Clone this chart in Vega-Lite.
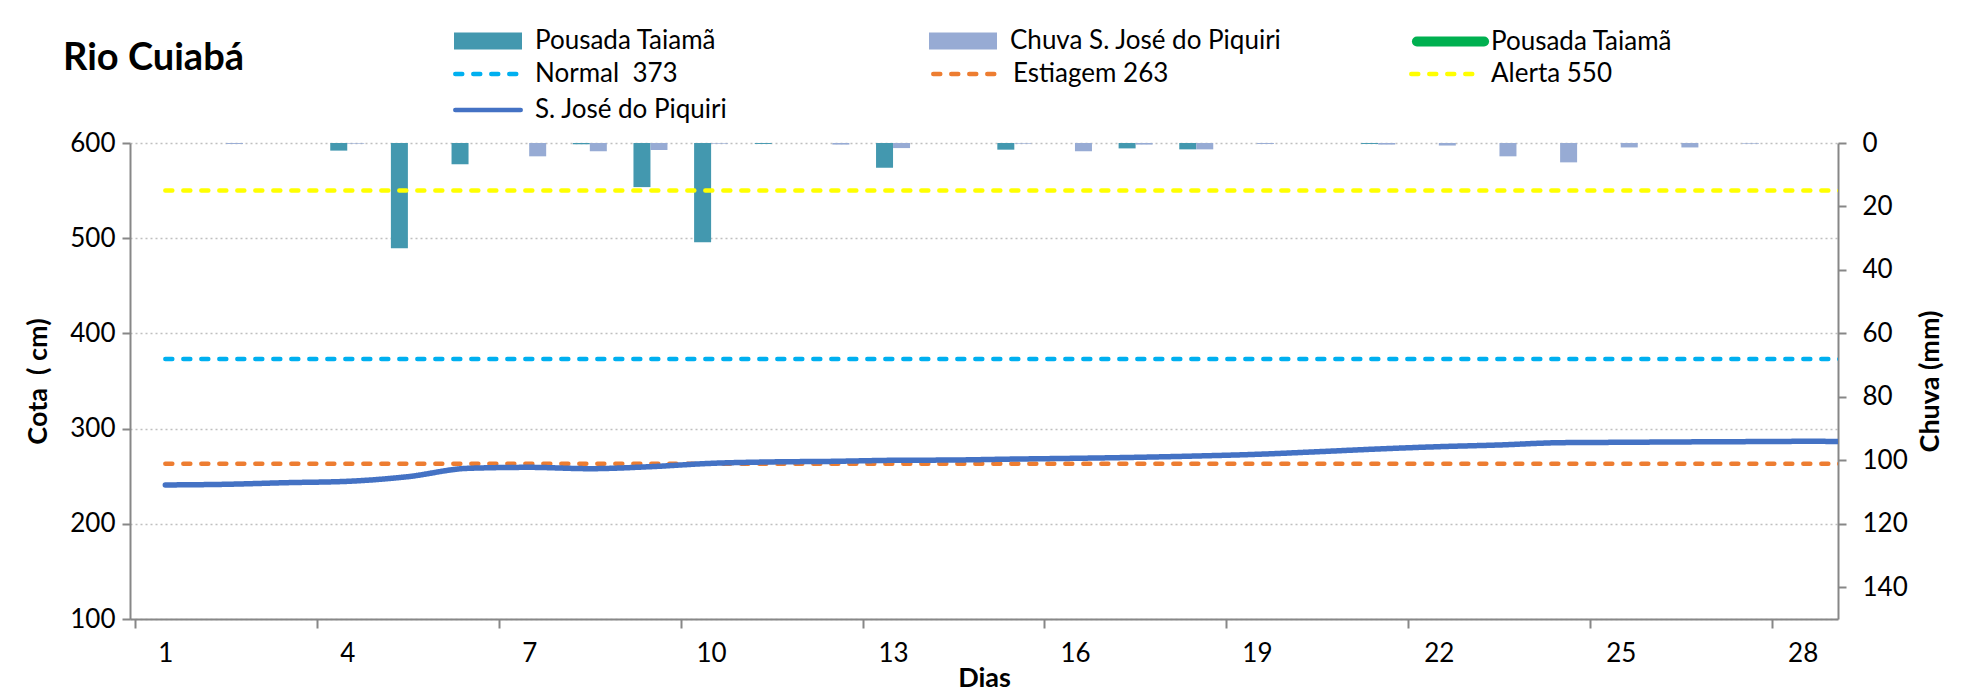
{
  "$schema": "https://vega.github.io/schema/vega-lite/v6.json",
  "width": 1708,
  "height": 476,
  "autosize": {"type": "none"},
  "padding": {"left": 130, "top": 143, "right": 146, "bottom": 79},
  "background": "white",
  "title": {
    "text": "Rio Cuiabá",
    "anchor": "start",
    "frame": "group",
    "font": "Lato",
    "fontSize": 38,
    "fontWeight": "bold",
    "color": "#000000",
    "dx": -67,
    "dy": 80,
    "offset": 0,
    "baseline": "alphabetic"
  },
  "datasets": {
    "chuva": [
      {"dia": 1, "serie": "Pousada Taiamã", "mm": 0},
      {"dia": 2, "serie": "Pousada Taiamã", "mm": 0},
      {"dia": 3, "serie": "Pousada Taiamã", "mm": 0},
      {"dia": 4, "serie": "Pousada Taiamã", "mm": 2.4},
      {"dia": 5, "serie": "Pousada Taiamã", "mm": 33.2},
      {"dia": 6, "serie": "Pousada Taiamã", "mm": 6.7},
      {"dia": 7, "serie": "Pousada Taiamã", "mm": 0},
      {"dia": 8, "serie": "Pousada Taiamã", "mm": 0.4},
      {"dia": 9, "serie": "Pousada Taiamã", "mm": 13.9},
      {"dia": 10, "serie": "Pousada Taiamã", "mm": 31.3},
      {"dia": 11, "serie": "Pousada Taiamã", "mm": 0.3},
      {"dia": 12, "serie": "Pousada Taiamã", "mm": 0},
      {"dia": 13, "serie": "Pousada Taiamã", "mm": 7.8},
      {"dia": 14, "serie": "Pousada Taiamã", "mm": 0},
      {"dia": 15, "serie": "Pousada Taiamã", "mm": 2.1},
      {"dia": 16, "serie": "Pousada Taiamã", "mm": 0},
      {"dia": 17, "serie": "Pousada Taiamã", "mm": 1.7},
      {"dia": 18, "serie": "Pousada Taiamã", "mm": 2.0},
      {"dia": 19, "serie": "Pousada Taiamã", "mm": 0},
      {"dia": 20, "serie": "Pousada Taiamã", "mm": 0},
      {"dia": 21, "serie": "Pousada Taiamã", "mm": 0.3},
      {"dia": 22, "serie": "Pousada Taiamã", "mm": 0},
      {"dia": 23, "serie": "Pousada Taiamã", "mm": 0},
      {"dia": 24, "serie": "Pousada Taiamã", "mm": 0},
      {"dia": 25, "serie": "Pousada Taiamã", "mm": 0},
      {"dia": 26, "serie": "Pousada Taiamã", "mm": 0},
      {"dia": 27, "serie": "Pousada Taiamã", "mm": 0},
      {"dia": 28, "serie": "Pousada Taiamã", "mm": 0},
      {"dia": 1, "serie": "Chuva S. José do Piquiri", "mm": 0},
      {"dia": 2, "serie": "Chuva S. José do Piquiri", "mm": 0.3},
      {"dia": 3, "serie": "Chuva S. José do Piquiri", "mm": 0},
      {"dia": 4, "serie": "Chuva S. José do Piquiri", "mm": 0.2},
      {"dia": 5, "serie": "Chuva S. José do Piquiri", "mm": 0},
      {"dia": 6, "serie": "Chuva S. José do Piquiri", "mm": 0},
      {"dia": 7, "serie": "Chuva S. José do Piquiri", "mm": 4.2},
      {"dia": 8, "serie": "Chuva S. José do Piquiri", "mm": 2.6},
      {"dia": 9, "serie": "Chuva S. José do Piquiri", "mm": 2.2},
      {"dia": 10, "serie": "Chuva S. José do Piquiri", "mm": 0.2},
      {"dia": 11, "serie": "Chuva S. José do Piquiri", "mm": 0},
      {"dia": 12, "serie": "Chuva S. José do Piquiri", "mm": 0.5},
      {"dia": 13, "serie": "Chuva S. José do Piquiri", "mm": 1.6},
      {"dia": 14, "serie": "Chuva S. José do Piquiri", "mm": 0},
      {"dia": 15, "serie": "Chuva S. José do Piquiri", "mm": 0.2},
      {"dia": 16, "serie": "Chuva S. José do Piquiri", "mm": 2.6},
      {"dia": 17, "serie": "Chuva S. José do Piquiri", "mm": 0.5},
      {"dia": 18, "serie": "Chuva S. José do Piquiri", "mm": 2.0},
      {"dia": 19, "serie": "Chuva S. José do Piquiri", "mm": 0.3},
      {"dia": 20, "serie": "Chuva S. José do Piquiri", "mm": 0},
      {"dia": 21, "serie": "Chuva S. José do Piquiri", "mm": 0.5},
      {"dia": 22, "serie": "Chuva S. José do Piquiri", "mm": 0.8},
      {"dia": 23, "serie": "Chuva S. José do Piquiri", "mm": 4.2},
      {"dia": 24, "serie": "Chuva S. José do Piquiri", "mm": 6.1},
      {"dia": 25, "serie": "Chuva S. José do Piquiri", "mm": 1.4},
      {"dia": 26, "serie": "Chuva S. José do Piquiri", "mm": 1.4},
      {"dia": 27, "serie": "Chuva S. José do Piquiri", "mm": 0.2},
      {"dia": 28, "serie": "Chuva S. José do Piquiri", "mm": 0}
    ],
    "referencia": [
      {"dia": 1, "serie": "Normal  373", "cota": 373},
      {"dia": 29, "serie": "Normal  373", "cota": 373},
      {"dia": 1, "serie": "Estiagem 263", "cota": 263},
      {"dia": 29, "serie": "Estiagem 263", "cota": 263},
      {"dia": 1, "serie": "Alerta 550", "cota": 550},
      {"dia": 29, "serie": "Alerta 550", "cota": 550}
    ],
    "cota": [
      {"dia": 1, "serie": "S. José do Piquiri", "cota": 240.8},
      {"dia": 2, "serie": "S. José do Piquiri", "cota": 241.5},
      {"dia": 3, "serie": "S. José do Piquiri", "cota": 243.2},
      {"dia": 4, "serie": "S. José do Piquiri", "cota": 244.6},
      {"dia": 5, "serie": "S. José do Piquiri", "cota": 249.5},
      {"dia": 6, "serie": "S. José do Piquiri", "cota": 258.3},
      {"dia": 7, "serie": "S. José do Piquiri", "cota": 259.3},
      {"dia": 8, "serie": "S. José do Piquiri", "cota": 257.9},
      {"dia": 9, "serie": "S. José do Piquiri", "cota": 260},
      {"dia": 10, "serie": "S. José do Piquiri", "cota": 263.5},
      {"dia": 11, "serie": "S. José do Piquiri", "cota": 265},
      {"dia": 12, "serie": "S. José do Piquiri", "cota": 265.6},
      {"dia": 13, "serie": "S. José do Piquiri", "cota": 266.7},
      {"dia": 14, "serie": "S. José do Piquiri", "cota": 267},
      {"dia": 15, "serie": "S. José do Piquiri", "cota": 268},
      {"dia": 16, "serie": "S. José do Piquiri", "cota": 268.8},
      {"dia": 17, "serie": "S. José do Piquiri", "cota": 269.8},
      {"dia": 18, "serie": "S. José do Piquiri", "cota": 271.2},
      {"dia": 19, "serie": "S. José do Piquiri", "cota": 273},
      {"dia": 20, "serie": "S. José do Piquiri", "cota": 275.7},
      {"dia": 21, "serie": "S. José do Piquiri", "cota": 278.6},
      {"dia": 22, "serie": "S. José do Piquiri", "cota": 281},
      {"dia": 23, "serie": "S. José do Piquiri", "cota": 282.8},
      {"dia": 24, "serie": "S. José do Piquiri", "cota": 285.2},
      {"dia": 25, "serie": "S. José do Piquiri", "cota": 285.6},
      {"dia": 26, "serie": "S. José do Piquiri", "cota": 286},
      {"dia": 27, "serie": "S. José do Piquiri", "cota": 286.3},
      {"dia": 28, "serie": "S. José do Piquiri", "cota": 286.6},
      {"dia": 29, "serie": "S. José do Piquiri", "cota": 286.5}
    ],
    "cotaPousada": []
  },
  "encoding": {
    "x": {
      "field": "dia",
      "type": "quantitative",
      "scale": {"domain": [0.5, 28.5], "nice": false, "zero": false},
      "axis": {
        "title": "Dias",
        "values": [1, 4, 7, 10, 13, 16, 19, 22, 25, 28],
        "tickOffset": -30.5,
        "labelOffset": 30.5,
        "tickSize": 9,
        "labelPadding": 12,
        "titlePadding": -1,
        "grid": false,
        "labelFlush": false,
        "labelOverlap": false
      }
    }
  },
  "layer": [
    {
      "data": {"name": "chuva"},
      "encoding": {
        "y": {
          "field": "mm",
          "type": "quantitative",
          "scale": {"domain": [0, 150], "reverse": true, "nice": false, "zero": true},
          "axis": {
            "orient": "right",
            "title": "Chuva (mm)",
            "values": [0, 20, 40, 60, 80, 100, 120, 140],
            "grid": false,
            "tickSize": 8,
            "labelPadding": 16,
            "titlePadding": 37,
            "titleAngle": -90
          }
        },
        "fill": {
          "field": "serie",
          "type": "nominal",
          "scale": {"domain": ["Pousada Taiamã", "Chuva S. José do Piquiri"], "range": ["#4398AF", "#97ABD4"]},
          "legend": {
            "title": null,
            "orient": "none",
            "legendX": 345,
            "legendY": -115,
            "direction": "horizontal",
            "columns": 2,
            "gridAlign": "each",
            "columnPadding": 212,
            "padding": 0,
            "labelFont": "Lato",
            "labelFontSize": 26,
            "labelColor": "#000000",
            "labelLimit": 500,
            "labelOffset": 34,
            "symbolType": "M-4,-1H4V1H-4Z",
            "symbolSize": 289,
            "symbolStrokeWidth": 0,
            "symbolOpacity": 1
          }
        }
      },
      "layer": [
        {
          "transform": [{"filter": "datum.serie == 'Pousada Taiamã'"}],
          "mark": {"type": "bar", "width": 17, "xOffset": -8.5}
        },
        {
          "transform": [{"filter": "datum.serie == 'Chuva S. José do Piquiri'"}],
          "mark": {"type": "bar", "width": 17, "xOffset": 8.5}
        }
      ]
    },
    {
      "encoding": {
        "y": {
          "field": "cota",
          "type": "quantitative",
          "scale": {"domain": [100, 600], "nice": false, "zero": false},
          "axis": {
            "orient": "left",
            "title": "Cota\u00a0 ( cm)",
            "values": [100, 200, 300, 400, 500, 600],
            "grid": true,
            "gridColor": "#BFBFBF",
            "gridDash": [2, 3],
            "gridWidth": 1.5,
            "tickSize": 8,
            "labelPadding": 7,
            "titlePadding": 17
          }
        }
      },
      "layer": [
        {
          "data": {"name": "cotaPousada"},
          "mark": {"type": "line", "strokeWidth": 10, "strokeCap": "round", "clip": true},
          "encoding": {
            "color": {
              "field": "serie",
              "type": "nominal",
              "scale": {"domain": ["Pousada Taiamã"], "range": ["#00B050"]},
              "legend": {
                "title": null,
                "orient": "none",
                "legendX": 1307,
                "legendY": -115,
                "padding": 0,
                "labelFont": "Lato",
                "labelFontSize": 26,
                "labelColor": "#000000",
                "labelLimit": 500,
                "labelOffset": 27,
                "symbolType": "M-3.95,0H3.95",
                "symbolSize": 289,
                "symbolStrokeWidth": 10,
                "symbolOpacity": 1,
                "encode": {"symbols": {"update": {"strokeCap": {"value": "round"}}}}
              }
            }
          }
        },
        {
          "data": {"name": "referencia"},
          "mark": {"type": "line", "strokeWidth": 4.5, "strokeCap": "round", "clip": true},
          "encoding": {
            "stroke": {
              "field": "serie",
              "type": "nominal",
              "scale": {"domain": ["Normal  373", "Estiagem 263", "Alerta 550", "S. José do Piquiri"], "range": ["#00B0F0", "#ED7D31", "#FFFF00", "#4472C4"]},
              "legend": {
                "title": null,
                "orient": "none",
                "legendX": 345,
                "legendY": -82,
                "direction": "horizontal",
                "columns": 3,
                "gridAlign": "all",
                "columnPadding": 196,
                "rowPadding": 10,
                "padding": 0,
                "labelFont": "Lato",
                "labelFontSize": 26,
                "labelColor": "#000000",
                "labelLimit": 500,
                "labelOffset": 34,
                "labelExpr": "datum.value == 'Normal  373' ? 'Normal\u00a0\u00a0373' : datum.label",
                "symbolType": "M-3.85,0H3.85",
                "symbolSize": 289,
                "symbolStrokeWidth": 4.5,
                "symbolOpacity": 1,
                "encode": {"symbols": {"update": {"strokeCap": {"value": "round"}}}}
              }
            },
            "strokeDash": {
              "field": "serie",
              "type": "nominal",
              "scale": {"domain": ["Normal  373", "Estiagem 263", "Alerta 550", "S. José do Piquiri"], "range": [[7, 11], [7, 11], [7, 11], [1, 0]]}
            }
          }
        },
        {
          "data": {"name": "cota"},
          "mark": {"type": "line", "strokeWidth": 5.5, "strokeCap": "round", "interpolate": "monotone", "clip": true},
          "encoding": {
            "stroke": {
              "field": "serie",
              "type": "nominal",
              "scale": {"domain": ["Normal  373", "Estiagem 263", "Alerta 550", "S. José do Piquiri"], "range": ["#00B0F0", "#ED7D31", "#FFFF00", "#4472C4"]}
            },
            "strokeDash": {
              "field": "serie",
              "type": "nominal",
              "scale": {"domain": ["Normal  373", "Estiagem 263", "Alerta 550", "S. José do Piquiri"], "range": [[7, 11], [7, 11], [7, 11], [1, 0]]}
            }
          }
        }
      ]
    }
  ],
  "resolve": {"scale": {"y": "independent"}},
  "config": {
    "font": "Lato",
    "view": {"stroke": null},
    "axis": {
      "labelFont": "Lato",
      "labelFontSize": 26,
      "labelColor": "#000000",
      "titleFont": "Lato",
      "titleFontSize": 27,
      "titleFontWeight": "bold",
      "titleColor": "#000000",
      "domainColor": "#878787",
      "domainWidth": 2,
      "tickColor": "#878787",
      "tickWidth": 2
    }
  }
}
